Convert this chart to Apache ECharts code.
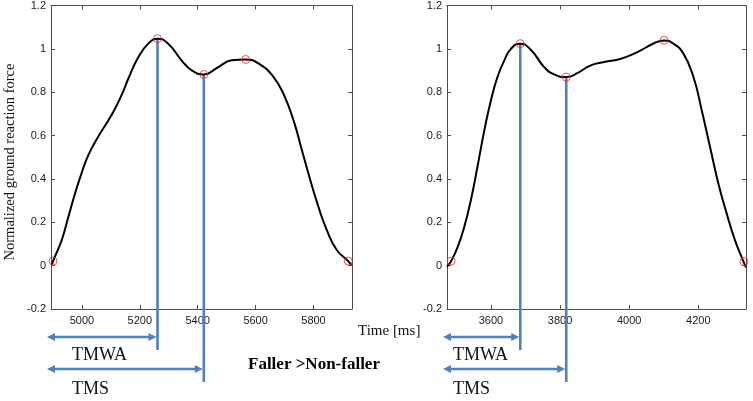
<!DOCTYPE html>
<html><head><meta charset="utf-8">
<script src="https://cdn.jsdelivr.net/npm/echarts@6/dist/echarts.min.js"></script>
<style>html,body{margin:0;padding:0;background:#fff}#c{width:753px;height:401px}</style>
</head><body><div id="c"></div>
<script>
// ---- data ----
const leftTime  = [4896, 4900, 4930, 4953, 4976, 4999, 5022, 5056, 5091, 5114, 5138, 5160, 5195, 5229, 5261, 5298, 5344, 5379, 5421, 5471, 5517, 5566, 5616, 5662, 5696, 5731, 5760, 5789, 5817, 5846, 5881, 5920, 5930];
const leftForce = [0.005, 0.021, 0.118, 0.225, 0.333, 0.428, 0.510, 0.595, 0.670, 0.724, 0.790, 0.862, 0.962, 1.024, 1.047, 1.024, 0.947, 0.901, 0.882, 0.916, 0.947, 0.951, 0.927, 0.870, 0.793, 0.670, 0.532, 0.394, 0.271, 0.164, 0.071, 0.021, 0.003];
const rightTime  = [3473, 3485, 3504, 3523, 3542, 3561, 3581, 3600, 3619, 3639, 3658, 3685, 3716, 3754, 3783, 3818, 3850, 3889, 3928, 3976, 4024, 4072, 4101, 4128, 4157, 4186, 4210, 4234, 4258, 4282, 4306, 4330, 4338];
const rightForce = [-0.005, 0.021, 0.087, 0.179, 0.302, 0.455, 0.624, 0.762, 0.870, 0.947, 1.000, 1.024, 0.995, 0.916, 0.882, 0.870, 0.888, 0.924, 0.939, 0.954, 0.985, 1.026, 1.039, 1.024, 0.978, 0.870, 0.716, 0.547, 0.379, 0.241, 0.118, 0.021, -0.008];
const leftEventTime  = [4900, 5261, 5421, 5566, 5920];
const leftEventForce = [0.021, 1.047, 0.882, 0.951, 0.021];
const rightEventTime  = [3485, 3685, 3818, 4101, 4332];
const rightEventForce = [0.021, 1.024, 0.870, 1.039, 0.018];
const leftXRange  = [4893, 5933];
const rightXRange = [3473, 4338];
const leftXTicks  = [5000, 5200, 5400, 5600, 5800];
const rightXTicks = [3600, 3800, 4000, 4200];
const yRange = [-0.2, 1.2];
const yStep = 0.2;
const phaseNames = ['TMWA', 'TMS'];   // first peak, valley
const yAxisTitle = 'Normalized ground reaction force';
const xAxisTitle = 'Time [ms]';
const groupLabel = 'Faller >Non-faller';

// ---- chart ----
const chart = echarts.init(document.getElementById('c'), null, {renderer: 'canvas'});
const axisCol = '#4d4d4d';
const labelFont = {fontFamily: 'Liberation Sans, Arial, sans-serif', fontSize: 11, color: '#1a1a1a'};
const fmtY = v => String(Math.round(v * 10) / 10);
const fmtX = v => String(Math.round(v));

const grids = [
  {left: 51, top: 5, width: 301, height: 304},
  {left: 447, top: 5, width: 299, height: 304}
];
function xAxes(gi, range, ticks) {
  return [
    {type: 'value', gridIndex: gi, position: 'bottom', min: range[0], max: range[1],
     axisLine: {show: true, onZero: false, lineStyle: {color: axisCol, width: 1}},
     axisTick: {show: true, inside: true, length: 4, customValues: ticks, lineStyle: {color: axisCol}},
     axisLabel: {show: true, customValues: ticks, margin: 6, formatter: fmtX, ...labelFont},
     splitLine: {show: false}},
    {type: 'value', gridIndex: gi, position: 'top', min: range[0], max: range[1],
     axisLine: {show: true, onZero: false, lineStyle: {color: axisCol, width: 1}},
     axisTick: {show: true, inside: true, length: 4, customValues: ticks, lineStyle: {color: axisCol}},
     axisLabel: {show: false, customValues: ticks}, splitLine: {show: false}}
  ];
}
function yAxes(gi) {
  return [
    {type: 'value', gridIndex: gi, position: 'left', min: yRange[0], max: yRange[1], interval: yStep,
     axisLine: {show: true, onZero: false, lineStyle: {color: axisCol, width: 1}},
     axisTick: {show: true, inside: true, length: 4, lineStyle: {color: axisCol}},
     axisLabel: {show: true, margin: 5, formatter: fmtY, ...labelFont}, splitLine: {show: false}},
    {type: 'value', gridIndex: gi, position: 'right', min: yRange[0], max: yRange[1], interval: yStep,
     axisLine: {show: true, onZero: false, lineStyle: {color: axisCol, width: 1}},
     axisTick: {show: true, inside: true, length: 4, lineStyle: {color: axisCol}},
     axisLabel: {show: false}, splitLine: {show: false}}
  ];
}
const zip = (a, b) => a.map((v, i) => [v, b[i]]);
const blue = '#4f81bd';

function annotSeries(xAxisIndex, yAxisIndex, eventT, eventF, xMin, textOffset) {
  const data = [[eventT[1], eventF[1], 0], [eventT[2], eventF[2], 1]];
  return {
    type: 'custom', xAxisIndex, yAxisIndex, clip: false, silent: true, z: 1,
    data,
    renderItem(params, api) {
      const t = api.value(0), f = api.value(1), k = api.value(2);
      const top = api.coord([t, f]);
      const base = api.coord([t, yRange[0]])[1];
      const x0 = api.coord([xMin, 0])[0] - 4;
      const x = top[0];
      const lineBottom = base + (k === 0 ? 41 : 73);
      const ay = base + (k === 0 ? 28 : 60);
      const ty = base + (k === 0 ? 46 : 80);
      const ah = 8, aw = 4;
      return {type: 'group', children: [
        {type: 'line', shape: {x1: x, y1: top[1], x2: x, y2: lineBottom}, style: {stroke: blue, lineWidth: 2.6}},
        {type: 'line', shape: {x1: x0 + ah - 1, y1: ay, x2: x - ah + 1, y2: ay}, style: {stroke: blue, lineWidth: 2.4}},
        {type: 'polygon', shape: {points: [[x0, ay], [x0 + ah, ay - aw], [x0 + ah, ay + aw]]}, style: {fill: blue}},
        {type: 'polygon', shape: {points: [[x - 1, ay], [x - 1 - ah, ay - aw], [x - 1 - ah, ay + aw]]}, style: {fill: blue}},
        {type: 'text', style: {text: phaseNames[k], x: x0 + textOffset, y: ty, textVerticalAlign: 'middle',
          font: '18px "Liberation Serif", "Times New Roman", serif', fill: '#111'}}
      ]};
    }
  };
}

const option = {
  animation: false,
  backgroundColor: '#fff',
  grid: grids,
  xAxis: [...xAxes(0, leftXRange, leftXTicks), ...xAxes(1, rightXRange, rightXTicks)],
  yAxis: [...yAxes(0), ...yAxes(1)],
  series: [
    annotSeries(0, 0, leftEventTime, leftEventForce, leftXRange[0], 25),
    annotSeries(2, 2, rightEventTime, rightEventForce, rightXRange[0], 10),
    {type: 'line', xAxisIndex: 0, yAxisIndex: 0, data: zip(leftTime, leftForce), smooth: 0.5,
     showSymbol: false, lineStyle: {color: '#000', width: 2}, z: 3, silent: true},
    {type: 'line', xAxisIndex: 2, yAxisIndex: 2, data: zip(rightTime, rightForce), smooth: 0.5,
     showSymbol: false, lineStyle: {color: '#000', width: 2}, z: 3, silent: true},
    {type: 'scatter', xAxisIndex: 0, yAxisIndex: 0, data: zip(leftEventTime, leftEventForce), symbol: 'circle', symbolSize: 8,
     itemStyle: {color: 'rgba(0,0,0,0)', borderColor: '#ff2020', borderWidth: 1}, z: 4, silent: true},
    {type: 'scatter', xAxisIndex: 2, yAxisIndex: 2, data: zip(rightEventTime, rightEventForce), symbol: 'circle', symbolSize: 8,
     itemStyle: {color: 'rgba(0,0,0,0)', borderColor: '#ff2020', borderWidth: 1}, z: 4, silent: true}
  ],
  graphic: [
    {type: 'text', x: 10, y: 162, rotation: Math.PI / 2,
     style: {text: yAxisTitle, font: '14.5px "Liberation Serif", "Times New Roman", serif', fill: '#111',
             textAlign: 'center', textVerticalAlign: 'middle'}},
    {type: 'text', left: 358, top: 324,
     style: {text: xAxisTitle, font: '15px "Liberation Serif", "Times New Roman", serif', fill: '#111'}},
    {type: 'text', left: 248, top: 356,
     style: {text: groupLabel, font: 'bold 17px "Liberation Serif", "Times New Roman", serif', fill: '#000'}}
  ]
};
chart.setOption(option);
</script></body></html>
